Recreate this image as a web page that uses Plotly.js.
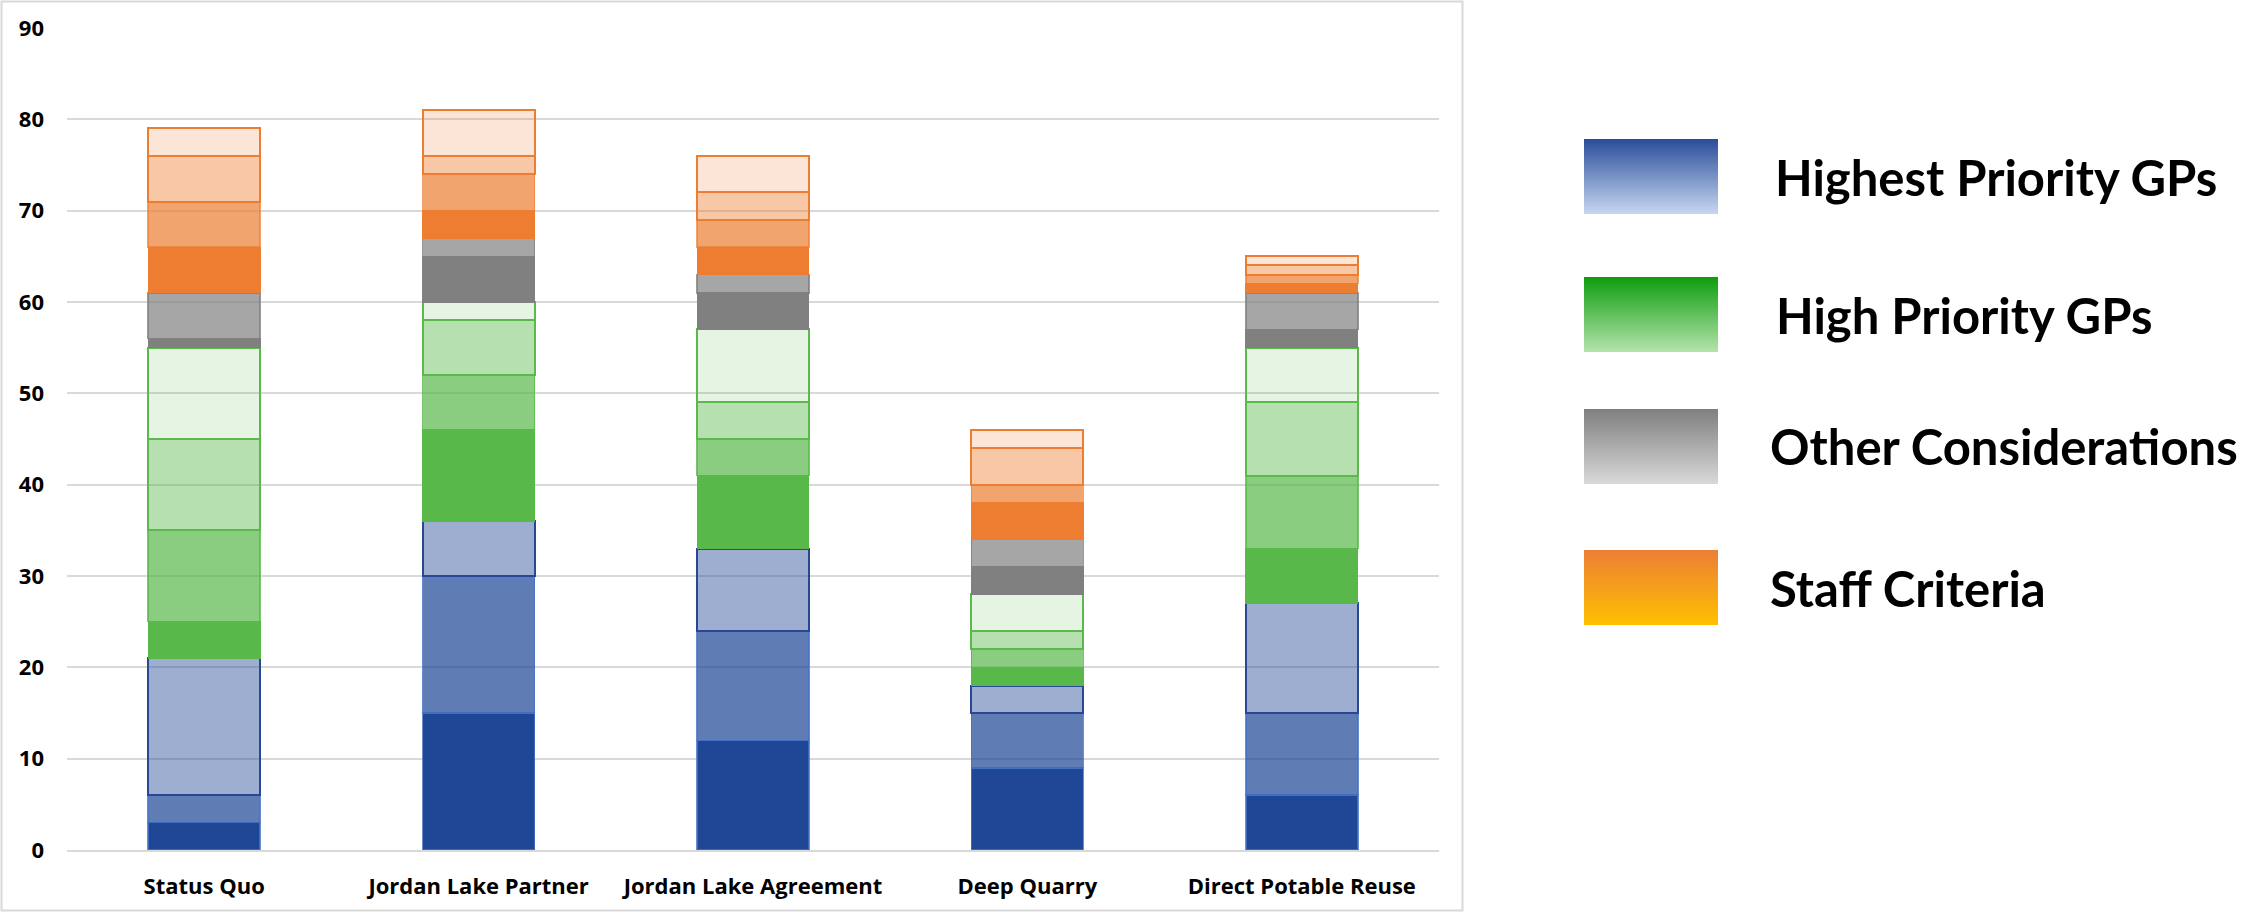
<!DOCTYPE html>
<html><head><meta charset="utf-8">
<script src="https://cdn.plot.ly/plotly-3.0.1.min.js"></script>
<style>html,body{margin:0;padding:0;background:#fff}</style>
</head><body>
<div id="chart" style="width:2257px;height:912px"></div>
<script>
const categories = ["Status Quo","Jordan Lake Partner","Jordan Lake Agreement","Deep Quarry","Direct Potable Reuse"];
// Highest Priority GPs (blue, dark -> light)
const highest1 = [3,15,12,9,6];
const highest2 = [3,15,12,6,9];
const highest3 = [15,6,9,3,12];
// High Priority GPs (green, dark -> light)
const high1 = [4,10,8,2,6];
const high2 = [10,6,4,2,8];
const high3 = [10,6,4,2,8];
const high4 = [10,2,8,4,6];
// Other Considerations (gray)
const other1 = [1,5,4,3,2];
const other2 = [5,2,2,3,4];
// Staff Criteria (orange, dark -> light)
const staff1 = [5,3,3,4,1];
const staff2 = [5,4,3,2,1];
const staff3 = [5,2,3,4,1];
const staff4 = [3,5,4,2,1];
const legendLabels = ["Highest Priority GPs","High Priority GPs","Other Considerations","Staff Criteria"];
const yTicks = [0,10,20,30,40,50,60,70,80,90];

const seriesDefs = [
  {name:"Highest Priority GPs 1", y:highest1, fill:"rgb(31,71,150)", line:"rgba(68,114,196,0.8)", lw:1.5},
  {name:"Highest Priority GPs 2", y:highest2, fill:"rgba(31,71,150,0.71)", line:"rgba(68,114,196,0.8)", lw:1.5},
  {name:"Highest Priority GPs 3", y:highest3, fill:"rgba(31,71,150,0.44)", line:"rgb(40,72,150)", lw:2},
  {name:"High Priority GPs 1", y:high1, fill:"rgb(89,184,74)", line:"rgb(89,184,74)", lw:1},
  {name:"High Priority GPs 2", y:high2, fill:"rgba(89,184,74,0.7)", line:"rgba(89,184,74,0.8)", lw:1.5},
  {name:"High Priority GPs 3", y:high3, fill:"rgba(89,184,74,0.43)", line:"rgb(91,184,74)", lw:2},
  {name:"High Priority GPs 4", y:high4, fill:"rgba(89,184,74,0.15)", line:"rgb(91,184,74)", lw:2},
  {name:"Other Considerations 1", y:other1, fill:"rgb(128,128,128)", line:"rgb(128,128,128)", lw:1},
  {name:"Other Considerations 2", y:other2, fill:"rgba(128,128,128,0.7)", line:"rgba(128,128,128,0.8)", lw:1.5},
  {name:"Staff Criteria 1", y:staff1, fill:"rgb(237,125,49)", line:"rgb(237,125,49)", lw:1},
  {name:"Staff Criteria 2", y:staff2, fill:"rgba(237,125,49,0.7)", line:"rgba(237,125,49,0.7)", lw:1.5},
  {name:"Staff Criteria 3", y:staff3, fill:"rgba(237,125,49,0.43)", line:"rgb(237,125,49)", lw:2},
  {name:"Staff Criteria 4", y:staff4, fill:"rgba(237,125,49,0.2)", line:"rgb(237,125,49)", lw:2}
];

const traces = seriesDefs.map(s => ({
  type:"bar", name:s.name, x:categories, y:s.y,
  marker:{color:s.fill, line:{color:s.line, width:s.lw}},
  hoverinfo:"name+y"
}));

// pixel -> paper helpers (plot area: x 67..1439, y 28..850)
const PL=67, PR=1439, PT=28, PB=850;
const px = v => (v-PL)/(PR-PL);
const py = v => (PB-v)/(PB-PT);

function gradSVG(top,bottom){
  const svg = '<svg xmlns="http://www.w3.org/2000/svg" width="134" height="75" preserveAspectRatio="none">' +
    '<defs><linearGradient id="g" x1="0" y1="0" x2="0" y2="1">' +
    '<stop offset="0" stop-color="'+top+'"/><stop offset="1" stop-color="'+bottom+'"/></linearGradient></defs>' +
    '<rect width="134" height="75" fill="url(#g)"/></svg>';
  return 'data:image/svg+xml;base64,' + btoa(svg);
}
const legendGradients = [["#2A4D9A","#C6D7EF"],["#0E9D0E","#B5E3AD"],["#7F7F7F","#D9D9D9"],["#EC7E36","#FFC000"]];
const legendTop = [139,277,409,550];
const legendTextX = [1773,1774,1768,1768];

const images = legendGradients.map((g,i)=>({
  source:gradSVG(g[0],g[1]), xref:"paper", yref:"paper",
  x:px(1584), y:py(legendTop[i]), sizex:px(1718)-px(1584), sizey:py(legendTop[i])-py(legendTop[i]+75),
  xanchor:"left", yanchor:"top", sizing:"stretch", layer:"above"
}));
const annotations = legendLabels.map((t,i)=>({
  text:t, xref:"paper", yref:"paper", x:px(legendTextX[i]), y:py(legendTop[i]+37.5),
  xanchor:"left", yanchor:"middle", showarrow:false,
  font:{family:"Lato, sans-serif", size:49, color:"#000", weight:700}
}));

const layout = {
  width:2257, height:912,
  margin:{l:PL, r:2257-PR, t:PT, b:912-PB, pad:0},
  paper_bgcolor:"#fff", plot_bgcolor:"#fff",
  barmode:"stack", bargap:0.592,
  showlegend:false,
  xaxis:{type:"category", showgrid:false, showline:true, linecolor:"#D9D9D9", linewidth:2,
    ticks:"", ticklabelstandoff:16,
    tickfont:{family:"'Open Sans', sans-serif", size:22, color:"#000", weight:700}},
  yaxis:{range:[0,90], tickvals:yTicks, showgrid:true, gridcolor:"#D9D9D9", gridwidth:2,
    zeroline:false, showline:false, ticks:"", ticklabelstandoff:22,
    tickfont:{family:"'Open Sans', sans-serif", size:22, color:"#000", weight:700}},
  shapes:[{type:"rect", xref:"paper", yref:"paper", x0:px(1.5), x1:px(1462.5), y0:py(910.5), y1:py(1.5),
    line:{color:"#D9D9D9", width:2}, fillcolor:"rgba(0,0,0,0)", layer:"below"}],
  images:images, annotations:annotations
};

Plotly.newPlot("chart", traces, layout, {displayModeBar:false, staticPlot:true});
</script>
</body></html>
